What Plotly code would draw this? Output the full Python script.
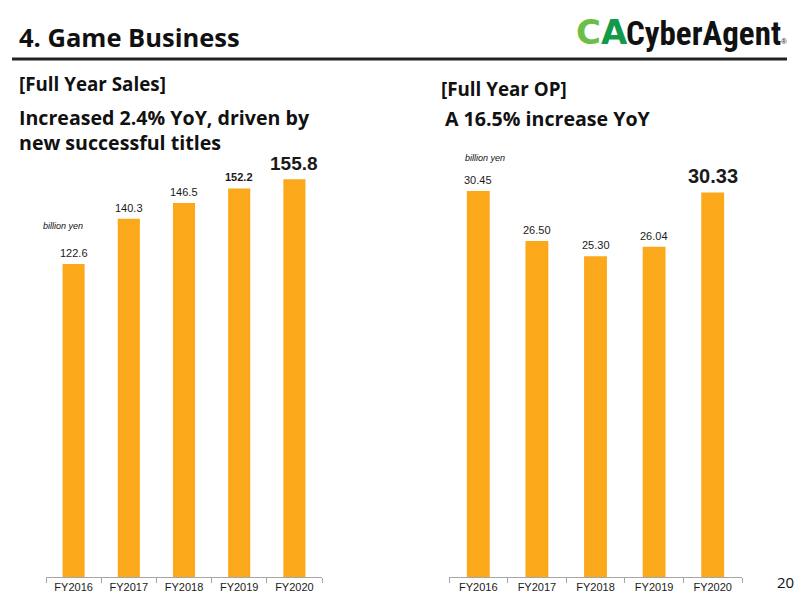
import plotly.graph_objects as go

categories = ["FY2016", "FY2017", "FY2018", "FY2019", "FY2020"]
sales = [122.6, 140.3, 146.5, 152.2, 155.8]
sales_labels = ["122.6", "140.3", "146.5", "152.2", "155.8"]
op = [30.45, 26.50, 25.30, 26.04, 30.33]
op_labels = ["30.45", "26.50", "25.30", "26.04", "30.33"]

BAR = "#FBA81A"
TXT = "#1a1a1a"
LABEL_FONT = "Liberation Sans, Arial, sans-serif"
HEAD_FONT = "Open Sans, Lato, sans-serif"

W, H = 800, 600
def px(x):
    return x / W
def py(y):
    return 1 - y / H

fig = go.Figure()
fig.add_trace(go.Bar(x=categories, y=sales, marker_color=BAR, width=0.4,
                     xaxis="x", yaxis="y", hoverinfo="skip", marker_line_width=0))
fig.add_trace(go.Bar(x=categories, y=op, marker_color=BAR, width=0.39,
                     xaxis="x2", yaxis="y2", hoverinfo="skip", marker_line_width=0))

axis_common = dict(type="category", showline=True, linecolor="#A6A6A6", linewidth=1,
                   ticks="outside", tickson="boundaries", ticklen=5, tickcolor="#A6A6A6",
                   tickfont=dict(family=LABEL_FONT, size=11, color=TXT), showgrid=False,
                   fixedrange=True)
fig.update_layout(
    width=W, height=H, margin=dict(l=0, r=0, t=0, b=0),
    paper_bgcolor="white", plot_bgcolor="white", showlegend=False,
    xaxis=dict(domain=[px(46), px(322)], anchor="y", **axis_common),
    yaxis=dict(domain=[py(577), py(577 - 160 * 2.553)], range=[0, 160], visible=False,
               anchor="x", fixedrange=True),
    xaxis2=dict(domain=[px(449), px(742)], anchor="y2", **axis_common),
    yaxis2=dict(domain=[py(577), py(577 - 32 * 12.68)], range=[0, 32], visible=False,
                anchor="x2", fixedrange=True),
)

ann = []
# value labels, left
for i, (c, v, t) in enumerate(zip(categories, sales, sales_labels)):
    if i == 4:
        txt, size = f"<b>{t}</b>", 19
    elif i == 3:
        txt, size = f"<b>{t}</b>", 11
    else:
        txt, size = t, 11
    ann.append(dict(x=c, y=v, xref="x", yref="y", text=txt, showarrow=False,
                    yanchor="bottom", yshift=3,
                    font=dict(family=LABEL_FONT, size=size, color=TXT)))
# value labels, right
for i, (c, v, t) in enumerate(zip(categories, op, op_labels)):
    if i == 4:
        txt, size = f"<b>{t}</b>", 20
    else:
        txt, size = t, 11
    ann.append(dict(x=c, y=v, xref="x2", yref="y2", text=txt, showarrow=False,
                    yanchor="bottom", yshift=3,
                    font=dict(family=LABEL_FONT, size=size, color=TXT)))

def text(x, y, s, size, bold=True, family=HEAD_FONT, color="#111111", xanchor="left", italic=False, align="left"):
    t = f"<b>{s}</b>" if bold else s
    if italic:
        t = f"<i>{t}</i>"
    ann.append(dict(x=px(x), y=py(y), xref="paper", yref="paper", text=t, showarrow=False,
                    xanchor=xanchor, yanchor="middle", align=align,
                    font=dict(family=family, size=size, color=color)))

text(17, 37, "4. Game Business", 25.5)
text(17, 84, "[Full Year Sales]", 18.8)
text(17, 130, "Increased 2.4% YoY, driven by<br>new successful titles", 19.6)
text(439, 89, "[Full Year OP]", 18.8)
text(443, 118, "A 16.5% increase YoY", 19.6)
text(41, 226, "billion yen", 9, bold=False, family=LABEL_FONT, italic=True)
text(463, 158, "billion yen", 9, bold=False, family=LABEL_FONT, italic=True)
text(775, 582, "20", 15, bold=False, family=HEAD_FONT)

# logo
text(574, 32, "<span style='color:#6DBE45'>C</span><span style='color:#12994A'>A</span>",
     34, family="DejaVu Sans", color="#12994A")
text(624, 33, "CyberAgent", 33, family="Liberation Sans Narrow, Roboto Condensed, Liberation Sans", color="#111111")
text(779, 41, "®", 8, bold=False, family=LABEL_FONT)

fig.update_layout(annotations=ann)

fig.add_shape(type="line", xref="paper", yref="paper", x0=px(12), x1=px(787),
              y0=py(59), y1=py(59), line=dict(color="#222222", width=3))

fig.write_html("out.html")
